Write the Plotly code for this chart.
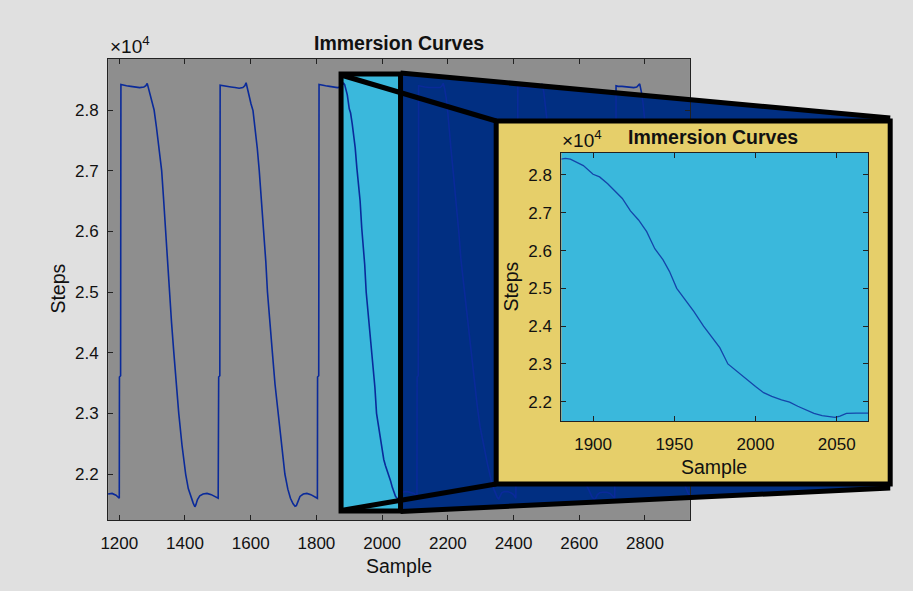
import plotly.graph_objects as go

W, H = 913, 591

# ---------------- data ----------------
lead_sample = [1166, 1178, 1190, 1197, 1200]
lead_steps = [21670, 21680, 21650, 21620, 21600]

cycle1_sample = [1200.5, 1204, 1205, 1212, 1222, 1235, 1248, 1262, 1275, 1281, 1285,
                 1290, 1295, 1300, 1306, 1313, 1321, 1329, 1335, 1341, 1347,
                 1352, 1359, 1366, 1373, 1381, 1391, 1402, 1410, 1418, 1425,
                 1430, 1433, 1438, 1445, 1455, 1467, 1480, 1490, 1497, 1501]
cycle1_steps = [23600, 23620, 28420, 28410, 28400, 28390, 28380, 28370, 28380, 28400, 28440,
                28330, 28210, 28110, 28000, 27720, 27380, 27000, 26520, 26000, 25450,
                25000, 24500, 24000, 23520, 23000, 22470, 22000, 21760, 21610, 21520,
                21460, 21490, 21580, 21640, 21670, 21680, 21660, 21630, 21610, 21600]

cycle2_sample = [1502.5, 1506, 1507, 1515, 1528, 1540, 1552, 1565, 1576, 1582, 1586,
                 1591, 1596, 1601, 1607, 1614, 1620, 1626, 1634, 1641, 1646,
                 1651, 1658, 1666, 1674, 1683, 1693, 1704, 1713, 1721, 1729,
                 1735, 1739, 1744, 1750, 1760, 1771, 1783, 1792, 1799, 1803]
cycle2_steps = [23600, 23620, 28410, 28400, 28390, 28380, 28370, 28360, 28370, 28400, 28450,
                28320, 28200, 28100, 27990, 27700, 27370, 27000, 26450, 26000, 25500,
                25000, 24480, 24000, 23480, 23000, 22480, 22000, 21750, 21600, 21510,
                21470, 21480, 21560, 21630, 21670, 21680, 21660, 21630, 21610, 21600]

cycle3_sample = [1803.5, 1807, 1808, 1815, 1828, 1840, 1852, 1864, 1874, 1879, 1883,
                 1886, 1890, 1894, 1900, 1904, 1909, 1914, 1918, 1923, 1928,
                 1933, 1938, 1943, 1947, 1951.5, 1957, 1962, 1968, 1973, 1978,
                 1983, 1989, 1995, 2000, 2005, 2010, 2016, 2021, 2026, 2031,
                 2036, 2041, 2046, 2049, 2052, 2056, 2062, 2069, 2078, 2088,
                 2097, 2103, 2106]
cycle3_steps = [23600, 23620, 28420, 28410, 28400, 28390, 28380, 28370, 28380, 28410, 28440,
                28420, 28340, 28250, 28020, 27950, 27770, 27560, 27380, 27050, 26810,
                26500, 26050, 25760, 25450, 25000, 24680, 24390, 24000, 23720, 23430,
                23000, 22780, 22570, 22400, 22240, 22140, 22050, 21990, 21880, 21780,
                21690, 21630, 21600, 21586, 21620, 21690, 21700, 21710, 21710, 21700,
                21680, 21640, 21610]

cycle4_sample = [2106.5, 2110, 2111, 2118, 2130, 2143, 2156, 2168, 2177, 2182, 2186,
                 2190, 2195, 2200, 2204, 2210, 2216, 2222, 2228, 2234, 2240,
                 2246, 2252, 2258, 2264, 2270, 2276, 2282, 2290, 2298, 2305,
                 2312, 2320, 2327, 2333, 2340, 2346, 2351, 2355, 2359, 2364,
                 2372, 2382, 2392, 2400, 2405, 2407]
cycle4_steps = [23600, 23620, 28400, 28390, 28380, 28370, 28370, 28360, 28370, 28400, 28440,
                28360, 28200, 27950, 27670, 27330, 27000, 26680, 26330, 25950, 25530,
                25230, 24950, 24650, 24350, 24050, 23780, 23480, 23100, 22780, 22560,
                22400, 22180, 22000, 21870, 21750, 21670, 21610, 21590, 21640, 21690,
                21710, 21710, 21690, 21660, 21620, 21600]

cycle5_sample = [2408.5, 2412, 2413, 2420, 2432, 2445, 2458, 2470, 2478, 2483, 2487,
                 2492, 2497, 2502, 2508, 2515, 2522, 2529, 2536, 2543, 2550,
                 2557, 2565, 2573, 2582, 2592, 2602, 2612, 2622, 2631, 2639,
                 2646, 2650, 2655, 2662, 2672, 2684, 2694, 2701, 2706, 2708]
cycle5_steps = [23600, 23620, 28400, 28390, 28380, 28370, 28370, 28360, 28370, 28400, 28430,
                28300, 28080, 27850, 27550, 27200, 26850, 26450, 25950, 25400, 24900,
                24420, 23900, 23400, 22950, 22500, 22200, 21980, 21820, 21700, 21620,
                21580, 21600, 21660, 21690, 21700, 21700, 21680, 21640, 21610, 21600]

cycle6_sample = [2708.5, 2711, 2712, 2718, 2730, 2742, 2754, 2766, 2775, 2780, 2784,
                 2789, 2794, 2799, 2805, 2812, 2820, 2828, 2835, 2842, 2849,
                 2856, 2864, 2872, 2881, 2891, 2901, 2911, 2921, 2930, 2937]
cycle6_steps = [23600, 23620, 28400, 28390, 28390, 28380, 28370, 28370, 28380, 28400, 28430,
                28300, 28120, 27850, 27600, 27250, 26880, 26450, 25950, 25400, 24900,
                24420, 23900, 23400, 22950, 22500, 22200, 21980, 21820, 21700, 21640]

main_xticks = [1200, 1400, 1600, 1800, 2000, 2200, 2400, 2600, 2800]
main_xrange = [1166, 2937]
steps_ticks = [22000, 23000, 24000, 25000, 26000, 27000, 28000]
steps_ticktext = ["2.2", "2.3", "2.4", "2.5", "2.6", "2.7", "2.8"]
main_yrange = [21242, 28841]

inset_xticks = [1900, 1950, 2000, 2050]
inset_xrange = [1880.5, 2069.5]
inset_yrange = [21490, 28582]

sample = (lead_sample + cycle1_sample + cycle2_sample + cycle3_sample
          + cycle4_sample + cycle5_sample + cycle6_sample)
steps = (lead_steps + cycle1_steps + cycle2_steps + cycle3_steps
         + cycle4_steps + cycle5_steps + cycle6_steps)

# ---------------- styling ----------------
FONT = "Liberation Sans, Arial, Helvetica, sans-serif"
PAPER = "#e0e0e0"
GREY = "#8e8e8e"
CYAN = "#3ab8dc"
NAVY = "#012f82"
YELLOW = "#e6cf6a"
LINE_MAIN = "#0a2a9a"
LINE_INSET = "#1445aa"
TXT = "#111111"


def fx(p):
    return p / W


def fy(p):
    return 1 - p / H


# main plot area (pixels)
M_L, M_R, M_T, M_B = 101, 688, 59, 520
# inset panel and its plot area (pixels)
P_L, P_R, P_T, P_B = 492.5, 890, 121, 484
I_L, I_R, I_T, I_B = 558.3, 868, 153, 421
# zoom box (pixels)
Z_L, Z_R, Z_T, Z_B = 336, 396, 74, 511

fig = go.Figure()

fig.add_trace(go.Scatter(x=sample, y=steps, mode="lines",
                         line=dict(color=LINE_MAIN, width=1.6),
                         xaxis="x", yaxis="y", showlegend=False, hoverinfo="skip"))
# placeholder registering the panel subplot
fig.add_trace(go.Scatter(x=[], y=[], mode="lines", xaxis="x2", yaxis="y2",
                         showlegend=False, hoverinfo="skip"))
fig.add_trace(go.Scatter(x=sample, y=steps, mode="lines",
                         line=dict(color=LINE_INSET, width=1.3),
                         xaxis="x3", yaxis="y3", showlegend=False, hoverinfo="skip"))

axis_common = dict(ticks="inside", ticklen=5, tickcolor="#222", showline=True,
                   linecolor="#222", linewidth=1, mirror="allticks", showgrid=False,
                   zeroline=False, tickfont=dict(family=FONT, size=17, color=TXT),
                   fixedrange=True)

fig.update_layout(
    width=W, height=H, autosize=False,
    margin=dict(l=0, r=0, t=0, b=0, pad=0),
    paper_bgcolor=PAPER, plot_bgcolor=GREY,
    xaxis=dict(domain=[fx(M_L), fx(M_R)], anchor="y", range=main_xrange,
               tickvals=main_xticks, ticklabelstandoff=8, **axis_common),
    yaxis=dict(domain=[fy(M_B), fy(M_T)], anchor="x", range=main_yrange,
               tickvals=steps_ticks, ticktext=steps_ticktext, ticklabelstandoff=5,
               **axis_common),
    xaxis2=dict(domain=[fx(P_L), fx(P_R)], anchor="y2", range=[0, 1], visible=False,
                fixedrange=True),
    yaxis2=dict(domain=[fy(P_B), fy(P_T)], anchor="x2", range=[0, 1], visible=False,
                fixedrange=True),
    xaxis3=dict(domain=[fx(I_L), fx(I_R)], anchor="y3", range=inset_xrange,
                tickvals=inset_xticks, ticklabelstandoff=8, **axis_common),
    yaxis3=dict(domain=[fy(I_B), fy(I_T)], anchor="x3", range=inset_yrange,
                tickvals=steps_ticks, ticktext=steps_ticktext, ticklabelstandoff=5,
                **axis_common),
)

shapes = []
# zoom box fill (cyan)
shapes.append(dict(type="rect", xref="paper", yref="paper", layer="below",
                   x0=fx(Z_L), x1=fx(Z_R), y0=fy(Z_B), y1=fy(Z_T),
                   fillcolor=CYAN, line=dict(width=0)))
# dark blue projection
quad = [(Z_R, 73), (P_R, 118), (P_R, 488), (Z_R, 511.5)]
path = "M " + " L ".join(f"{fx(a):.5f},{fy(b):.5f}" for a, b in quad) + " Z"
shapes.append(dict(type="path", xref="paper", yref="paper", layer="below",
                   path=path, fillcolor=NAVY, line=dict(width=0)))
# panel background (yellow) inside panel subplot
shapes.append(dict(type="rect", xref="x2", yref="y2", layer="below",
                   x0=0, x1=1, y0=0, y1=1, fillcolor=YELLOW, line=dict(width=0)))
# inset plot background (cyan)
shapes.append(dict(type="rect", xref="x3", yref="y3", layer="below",
                   x0=inset_xrange[0], x1=inset_xrange[1],
                   y0=inset_yrange[0], y1=inset_yrange[1],
                   fillcolor=CYAN, line=dict(width=0)))

BL = dict(color="black", width=5)
# zoom box outline
shapes.append(dict(type="rect", xref="paper", yref="paper", layer="above",
                   x0=fx(Z_L), x1=fx(Z_R), y0=fy(Z_B), y1=fy(Z_T), line=BL))
# connector lines
for (a, b), (c, d) in [((Z_L, 75), (P_L, P_T)), ((Z_L, 510.5), (P_L, P_B)),
                       ((Z_R, 73), (P_R, 118)), ((Z_R, 511.5), (P_R, 488))]:
    shapes.append(dict(type="line", xref="paper", yref="paper", layer="above",
                       x0=fx(a), y0=fy(b), x1=fx(c), y1=fy(d), line=BL))
# panel outline
shapes.append(dict(type="rect", xref="paper", yref="paper", layer="above",
                   x0=fx(P_L), x1=fx(P_R), y0=fy(P_B), y1=fy(P_T), line=BL))
fig.update_layout(shapes=shapes)

ann = []


def text(x, y, s, size, bold=False, angle=0, xanchor="center", yanchor="middle"):
    ann.append(dict(xref="paper", yref="paper", x=fx(x), y=fy(y), text=s,
                    showarrow=False, textangle=angle, xanchor=xanchor, yanchor=yanchor,
                    font=dict(family=FONT, size=size, color=TXT,
                              weight="bold" if bold else "normal")))


text(394, 43, "Immersion Curves", 19.5, bold=True)
text(101, 59, "×10<sup>4</sup>", 19, xanchor="left", yanchor="bottom")
text(394, 566, "Sample", 19.5)
text(50, 289, "Steps", 19.5, angle=-90)

text(711, 137, "Immersion Curves", 19.5, bold=True)
text(557, 153, "×10<sup>4</sup>", 19, xanchor="left", yanchor="bottom")
text(712, 467, "Sample", 19.5)
text(507, 287, "Steps", 19.5, angle=-90)

fig.update_layout(annotations=ann)

fig.write_html("out.html", config={"displayModeBar": False},
               post_script="document.body.style.margin='0';")
